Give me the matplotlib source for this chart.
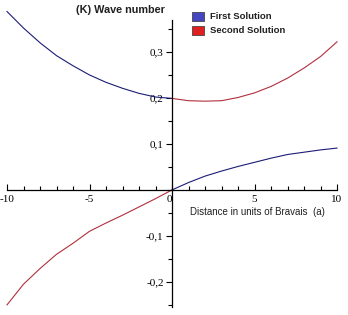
import matplotlib
matplotlib.use('Agg')
import matplotlib.pyplot as plt
from matplotlib.ticker import MultipleLocator, FixedLocator, FuncFormatter
from matplotlib.patches import Rectangle

# lecture des courbes sur l'image (pas de 1 en x)
x_neg = [-10, -9, -8, -7, -6, -5, -4, -3, -2, -1, 0]
x_pos = [0, 1, 2, 3, 4, 5, 6, 7, 8, 9, 10]
first_upper = [0.388, 0.352, 0.320, 0.292, 0.270, 0.250, 0.234, 0.221, 0.210, 0.202, 0.199]
first_lower = [0.0, 0.016, 0.030, 0.041, 0.051, 0.060, 0.069, 0.077, 0.082, 0.087, 0.091]
second_upper = [0.199, 0.194, 0.193, 0.194, 0.201, 0.211, 0.225, 0.243, 0.265, 0.290, 0.322]
second_lower = [-0.250, -0.205, -0.171, -0.140, -0.116, -0.090, -0.072, -0.055, -0.037, -0.019, 0.0]

y_ticks = [-0.2, -0.1, 0.0, 0.1, 0.2, 0.3]
series_names = ['First Solution', 'Second Solution']
line_colors = ['#1c1c78', '#b0303c']
box_colors = ['#4646c0', '#e02020']

W, H = 348, 315
fig = plt.figure(figsize=(W / 100, H / 100), dpi=100)
ax = fig.add_axes([0, 0, 1, 1])

ax.plot(x_neg, first_upper, color=line_colors[0], lw=0.8)
ax.plot(x_pos, first_lower, color=line_colors[0], lw=0.8)
ax.plot(x_pos, second_upper, color=line_colors[1], lw=0.8)
ax.plot(x_neg, second_lower, color=line_colors[1], lw=0.8)

ax.set_xlim(-10 - 7 * 20 / 330, 10 + 11 * 20 / 330)
ax.set_ylim(-0.272, 0.413)

for s in ['top', 'right']:
    ax.spines[s].set_visible(False)
ax.spines['left'].set_position('zero')
ax.spines['bottom'].set_position('zero')
ax.spines['left'].set_bounds(-0.255, 0.37)
ax.spines['bottom'].set_bounds(-10, 10)
for s in ['left', 'bottom']:
    ax.spines[s].set_linewidth(0.9)

serif = 'Liberation Serif'
ax.xaxis.set_major_locator(MultipleLocator(5))
ax.xaxis.set_minor_locator(MultipleLocator(1))
ax.yaxis.set_major_locator(FixedLocator(y_ticks))
ax.yaxis.set_minor_locator(FixedLocator([-0.25, -0.15, -0.05, 0.05, 0.15, 0.25, 0.35]))
ax.tick_params(axis='x', which='both', direction='in', width=0.8)
ax.tick_params(axis='x', which='major', length=4, pad=4)
ax.tick_params(axis='x', which='minor', length=3)
ax.tick_params(axis='y', which='both', direction='out', width=0.8)
ax.tick_params(axis='y', which='major', length=4, pad=2)
ax.tick_params(axis='y', which='minor', length=3)

ax.xaxis.set_major_formatter(FuncFormatter(lambda v, p: '%d' % round(v)))
ax.yaxis.set_major_formatter(
    FuncFormatter(lambda v, p: '' if abs(v) < 1e-9 else ('%.1f' % v).replace('.', ',')))
fig.canvas.draw()
for lab in ax.get_xticklabels() + ax.get_yticklabels():
    lab.set_fontfamily(serif)
    lab.set_fontsize(8)
for lab in ax.get_xticklabels():
    if lab.get_text() == '0':
        lab.set_horizontalalignment('right')

ax.text(-0.45, 0.392, '(K) Wave number', ha='right', va='center',
        fontsize=7.8, fontweight='bold', family='Liberation Sans', color='#202020')
ax.text(1.1, -0.049, 'Distance in units of Bravais  (a)', ha='left', va='center',
        fontsize=7, family='Liberation Sans', color='#202020')

# légende
for i, name in enumerate(series_names):
    y0 = 0.377 - i * 0.031
    ax.add_patch(Rectangle((1.2, y0 - 0.0095), 0.75, 0.019, facecolor=box_colors[i],
                           edgecolor='#303030', lw=0.5))
    ax.text(2.3, y0, name, ha='left', va='center', fontsize=6.8,
            fontweight='bold', family='Liberation Sans', color='#202020')

fig.savefig('out.png', dpi=100)
